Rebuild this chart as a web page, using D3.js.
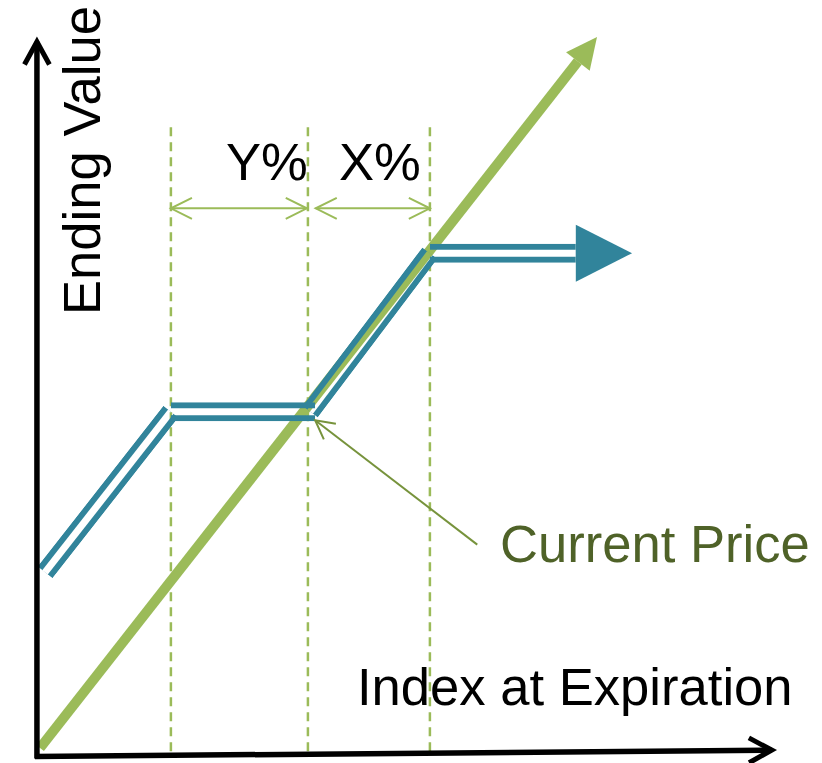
<!DOCTYPE html>
<html>
<head>
<meta charset="utf-8">
<script src="https://cdn.jsdelivr.net/npm/d3@7/dist/d3.min.js"></script>
<style>
  html, body { margin: 0; padding: 0; background: #ffffff; }
  svg { display: block; }
  text { font-family: "Liberation Sans", Arial, sans-serif; }
</style>
</head>
<body>
<script>
// Buffered note payoff: ending value against index level at expiration.
// Index level and ending value share one unit scale (0..100).

// Unprotected index: ending value equals index level
const indexLine = [[0, 0], [100, 100]];
// Lower buffer strike, current price, upper cap strike
const strikeLevels = [23.5, 48.1, 70.0];
const strikeLabels = ["Buffer", "Current", "Cap"];
const guideTop = 87.3;
// Payoff segments of the buffered note
const payoffSegments = [
  [[0.9, 24.7], [23.5, 47.3]],
  [[23.5, 47.3], [49.4, 47.3]],
  [[48.5, 47.3], [70.0, 69.6]],
  [[70.0, 69.6], [96.2, 69.6]]
];
const payoffArrowTip = 106.3;
// Span annotations between strikes
const spanLabels = ["Y%", "X%"];
const spanFrom = [23.5, 49.5];
const spanTo = [47.9, 70.0];
const spanLevel = 75.9;
// Pointer to the current price
const pointerFrom = [78.5, 28.6];
const pointerTo = [49.4, 46.1];
// Axis extents
const axisOrigin = [-0.55, -1.2];
const axisEndIndex = 132.1;
const axisEndIndexLevel = -0.3;
const axisEndValue = 99.9;

const W = 822, H = 763;
const green = "#9BBB59", blue = "#31849B", olive = "#77933C", oliveText = "#4F6228";
const fontSize = 52.6;

const x = d3.scaleLinear().domain([0, 100]).range([40, 597]);
const y = d3.scaleLinear().domain([0, 100]).range([748, 37]);

const svg = d3.select("body").append("svg")
  .attr("width", W).attr("height", H);

const line = d3.line().x(d => x(d[0])).y(d => y(d[1]));

function chevron(g, tip, angle, len, spread, color, width) {
  const pts = [
    [tip[0] - len * Math.cos(angle - spread), tip[1] - len * Math.sin(angle - spread)],
    tip,
    [tip[0] - len * Math.cos(angle + spread), tip[1] - len * Math.sin(angle + spread)]
  ];
  g.append("path")
    .attr("d", d3.line()(pts))
    .attr("fill", "none")
    .attr("stroke", color)
    .attr("stroke-width", width)
    .attr("stroke-linejoin", "miter")
    .attr("stroke-linecap", "butt");
}

// Height of the x axis at a given index level, for the guide endpoints
const axisY = i => {
  const t = (i - axisOrigin[0]) / (axisEndIndex - axisOrigin[0]);
  return y(axisOrigin[1] + t * (axisEndIndexLevel - axisOrigin[1]));
};

// Dashed strike guides
svg.append("g").selectAll("line")
  .data(strikeLevels)
  .join("line")
  .attr("class", (d, i) => "guide " + strikeLabels[i])
  .attr("x1", d => x(d)).attr("x2", d => x(d))
  .attr("y1", y(guideTop))
  .attr("y2", d => axisY(d))
  .attr("stroke", green)
  .attr("stroke-width", 2.5)
  .attr("stroke-dasharray", "9,6");

// Index line with arrowhead
const idxTip = indexLine[1];
const idxAngle = Math.atan2(y(idxTip[1]) - y(indexLine[0][1]), x(idxTip[0]) - x(indexLine[0][0]));
const headLen = 31, headHalf = 15;
const idxBase = [x(idxTip[0]) - headLen * Math.cos(idxAngle), y(idxTip[1]) - headLen * Math.sin(idxAngle)];
svg.append("path")
  .attr("d", `M${x(indexLine[0][0])},${y(indexLine[0][1])}L${idxBase[0]},${idxBase[1]}`)
  .attr("stroke", green).attr("stroke-width", 10).attr("fill", "none");
svg.append("path")
  .attr("d", d3.line()([
    [idxBase[0] + headHalf * Math.sin(idxAngle), idxBase[1] - headHalf * Math.cos(idxAngle)],
    [x(idxTip[0]), y(idxTip[1])],
    [idxBase[0] - headHalf * Math.sin(idxAngle), idxBase[1] + headHalf * Math.cos(idxAngle)]
  ]) + "Z")
  .attr("fill", green);

// Payoff drawn as a hollow double line (outer band masked by inner band)
const defs = svg.append("defs");
const payoffG = svg.append("g");
payoffSegments.forEach((seg, i) => {
  const id = "band" + i;
  const m = defs.append("mask").attr("id", id)
    .attr("maskUnits", "userSpaceOnUse")
    .attr("x", 0).attr("y", 0).attr("width", W).attr("height", H);
  m.append("path").attr("d", line(seg)).attr("stroke", "#fff")
    .attr("stroke-width", 19).attr("fill", "none");
  m.append("path").attr("d", line(seg)).attr("stroke", "#000")
    .attr("stroke-width", 7).attr("fill", "none");
  payoffG.append("path")
    .attr("d", line(seg))
    .attr("stroke", blue).attr("stroke-width", 19).attr("fill", "none")
    .attr("mask", `url(#${id})`);
});
const lastPt = payoffSegments[payoffSegments.length - 1][1];
payoffG.append("path")
  .attr("d", d3.line()([
    [x(lastPt[0]), y(lastPt[1]) - 28.5],
    [x(payoffArrowTip), y(lastPt[1])],
    [x(lastPt[0]), y(lastPt[1]) + 28.5]
  ]) + "Z")
  .attr("fill", blue);

// Span arrows and labels
const spanG = svg.append("g");
spanLabels.forEach((lab, i) => {
  const a = x(spanFrom[i]), b = x(spanTo[i]), yy = y(spanLevel);
  spanG.append("line")
    .attr("x1", a).attr("x2", b).attr("y1", yy).attr("y2", yy)
    .attr("stroke", green).attr("stroke-width", 2);
  chevron(spanG, [a, yy], Math.PI, 23.5, 0.46, green, 2);
  chevron(spanG, [b, yy], 0, 23.5, 0.46, green, 2);
});
spanG.selectAll("text")
  .data(spanLabels)
  .join("text")
  .attr("x", (d, i) => i === 0 ? x(spanTo[i]) + 1 : (x(spanFrom[i]) + x(spanTo[i])) / 2 + 7)
  .attr("y", y(spanLevel) - 28)
  .attr("text-anchor", (d, i) => i === 0 ? "end" : "middle")
  .attr("font-size", fontSize)
  .attr("fill", "#000")
  .text(d => d);

// Current price pointer
const pf = [x(pointerFrom[0]), y(pointerFrom[1])], pt = [x(pointerTo[0]), y(pointerTo[1])];
svg.append("line")
  .attr("x1", pf[0]).attr("y1", pf[1]).attr("x2", pt[0]).attr("y2", pt[1])
  .attr("stroke", olive).attr("stroke-width", 2);
chevron(svg, pt, Math.atan2(pt[1] - pf[1], pt[0] - pf[0]), 21, 0.49, olive, 2);
svg.append("text")
  .attr("x", 500).attr("y", 562)
  .attr("font-size", fontSize)
  .attr("fill", oliveText)
  .text("Current Price");

// Axes
const axG = svg.append("g");
const o = [x(axisOrigin[0]), y(axisOrigin[1])];
const xEnd = [x(axisEndIndex), y(axisEndIndexLevel)];
const yEnd = [x(axisOrigin[0]), y(axisEndValue)];
axG.append("line")
  .attr("x1", o[0]).attr("y1", o[1] + 2).attr("x2", yEnd[0]).attr("y2", yEnd[1] + 4)
  .attr("stroke", "#000").attr("stroke-width", 5.5);
axG.append("line")
  .attr("x1", o[0] - 2).attr("y1", o[1]).attr("x2", xEnd[0] - 4).attr("y2", xEnd[1])
  .attr("stroke", "#000").attr("stroke-width", 5.5);
chevron(axG, [yEnd[0], yEnd[1] + 4], -Math.PI / 2, 26, 0.5, "#000", 5);
chevron(axG, [xEnd[0] - 4, xEnd[1]], Math.atan2(xEnd[1] - o[1], xEnd[0] - o[0]), 26, 0.5, "#000", 5);

// Axis titles
svg.append("text")
  .attr("x", 357).attr("y", 705)
  .attr("font-size", fontSize).attr("fill", "#000")
  .text("Index at Expiration");
svg.append("text")
  .attr("transform", "translate(100,315) rotate(-90)")
  .attr("font-size", fontSize).attr("fill", "#000")
  .text("Ending Value");
</script>
</body>
</html>
